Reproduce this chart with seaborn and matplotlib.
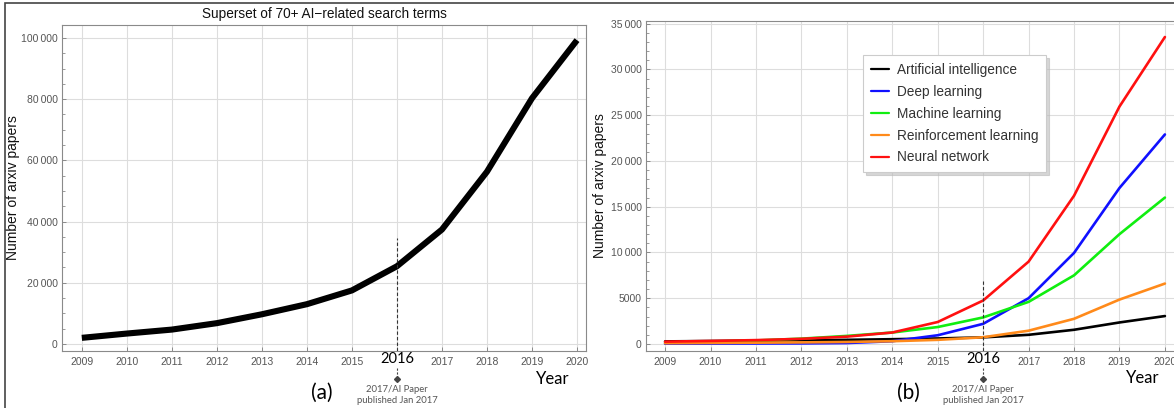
import matplotlib
matplotlib.use("Agg")
import matplotlib.pyplot as plt
import matplotlib.ticker as mticker
from matplotlib.patches import Rectangle
import numpy as np
import pandas as pd
import seaborn as sns

# ---------------- data ----------------
years = [2009, 2010, 2011, 2012, 2013, 2014, 2015, 2016, 2017, 2018, 2019, 2020]
superset = [2000, 3400, 4700, 6800, 9700, 13000, 17500, 25400, 37400, 56300, 80300, 99300]

series_names = ["Artificial intelligence", "Deep learning", "Machine learning",
                "Reinforcement learning", "Neural network"]
artificial_intelligence = [280, 320, 360, 400, 450, 520, 600, 720, 1000, 1550, 2350, 3050]
deep_learning = [30, 40, 50, 60, 100, 300, 950, 2200, 5000, 9950, 17050, 22900]
machine_learning = [150, 250, 380, 580, 880, 1250, 1850, 2900, 4600, 7500, 12000, 16000]
reinforcement_learning = [80, 110, 140, 170, 220, 300, 450, 730, 1450, 2750, 4850, 6600]
neural_network = [250, 330, 420, 560, 800, 1250, 2400, 4750, 9000, 16200, 25950, 33550]
series_values = [artificial_intelligence, deep_learning, machine_learning,
                 reinforcement_learning, neural_network]
series_colors = ["#000000", "#1010ff", "#10ee10", "#ff8a1a", "#ff1010"]

title_a = "Superset of 70+ AI\u2212related search terms"
ylabel = "Number of arxiv papers"
xlabel = "Year"
marker_year = 2016
note_text = "2017/AI Paper\npublished Jan 2017"

# ---------------- style ----------------
sns.set_style("white")
plt.rcParams['font.family'] = ['Liberation Sans', 'DejaVu Sans']

W, H = 1174, 408
fig = plt.figure(figsize=(W / 100, H / 100), dpi=100)


def fx(px):
    return px / W


def fy(py):
    return 1 - py / H


def add_axes_px(x0, y0, x1, y1):
    return fig.add_axes([fx(x0), fy(y1), fx(x1) - fx(x0), (y1 - y0) / H])


def fmt_num(v, pos):
    v = int(round(v))
    if abs(v) >= 10000:
        return f"{v:,}".replace(",", "\u2009")
    return str(v)


tick_color = "#555555"
spine_color = "#8a8a8a"
grid_color = "#dddddd"


def style_axes(ax, ymajor, yminor, xlim, ylim):
    ax.set_xlim(*xlim)
    ax.set_ylim(*ylim)
    ax.set_xticks(years)
    ax.set_xticklabels(["" if y == marker_year else str(y) for y in years])
    ax.yaxis.set_major_locator(mticker.MultipleLocator(ymajor))
    ax.yaxis.set_minor_locator(mticker.MultipleLocator(yminor))
    ax.yaxis.set_major_formatter(mticker.FuncFormatter(fmt_num))
    ax.tick_params(axis="both", which="major", direction="in", length=3,
                   width=0.7, color=spine_color, labelsize=7.5,
                   labelcolor=tick_color, pad=3)
    ax.tick_params(axis="y", which="minor", direction="in", length=2,
                   width=0.6, color=spine_color, left=True)
    ax.tick_params(axis="x", pad=4)
    ax.tick_params(left=True, bottom=True)
    ax.grid(True, which="major", color=grid_color, linewidth=0.8)
    for s in ax.spines.values():
        s.set_color(spine_color)
        s.set_linewidth(0.8)
    ax.set_xlabel("")
    ax.set_ylabel(ylabel, fontsize=10, color="#111111")


# ---------------- panel (a) ----------------
ax1 = add_axes_px(62, 25, 586, 351)
df_a = pd.DataFrame({"Year": years, "Papers": superset})
sns.lineplot(data=df_a, x="Year", y="Papers", ax=ax1, color="black",
             linewidth=4.4, solid_capstyle="butt")
style_axes(ax1, 20000, 5000, (2008.56, 2020.2), (-2300, 104250))
ax1.yaxis.set_label_coords(fx(20), fy(188), transform=fig.transFigure)
ax1.set_title(title_a, fontsize=9.8, color="#111111", pad=5)
ax1.vlines(marker_year, -2300, 34600, colors="#333333", linestyles=(0, (3, 2)),
           linewidth=0.8, zorder=3)

# ---------------- panel (b) ----------------
ax2 = add_axes_px(646, 21, 1174, 351)
df_b = pd.DataFrame({
    "Year": np.tile(years, len(series_names)),
    "Papers": np.concatenate(series_values),
    "Term": np.repeat(series_names, len(years)),
})
sns.lineplot(data=df_b, x="Year", y="Papers", hue="Term", hue_order=series_names,
             palette=series_colors, ax=ax2, linewidth=1.9)
style_axes(ax2, 5000, 1000, (2008.58, 2020.2), (-770, 35300))
ax2.spines["right"].set_visible(False)
ax2.yaxis.set_label_coords(fx(607), fy(186), transform=fig.transFigure)
ax2.vlines(marker_year, -770, 6950, colors="#333333", linestyles=(0, (3, 2)),
           linewidth=0.8, zorder=3)
leg = ax2.legend(loc="upper left", bbox_to_anchor=(fx(863), fy(55)),
                 bbox_transform=fig.transFigure, borderaxespad=0,
                 frameon=True, fancybox=False,
                 shadow={"color": "#bbbbbb", "alpha": 0.6},
                 fontsize=9.8, handlelength=1.3, handletextpad=0.6,
                 labelspacing=0.58, borderpad=0.58, title=None)
leg.get_frame().set_edgecolor("#cccccc")
leg.get_frame().set_linewidth(0.8)
leg.get_frame().set_alpha(1.0)
for t in leg.get_texts():
    t.set_color("#333333")
for h in leg.get_lines():
    h.set_linewidth(1.6)

# ---------------- annotations (slide overlay) ----------------
overlay_font = ["Lato", "DejaVu Sans"]
for xc, lab in [(397, "(a)"), (983, "(b)")]:
    fig.text(fx(xc), fy(359), str(marker_year), ha="center", va="center",
             fontsize=10.5, family=overlay_font, color="black")
    fig.add_artist(plt.Line2D([fx(xc), fx(xc)], [fy(368), fy(377)],
                              transform=fig.transFigure, color="#444444",
                              linewidth=0.8, linestyle=(0, (2, 1.5))))
    fig.add_artist(plt.Line2D([fx(xc)], [fy(379)], transform=fig.transFigure,
                              marker="D", markersize=3, color="#444444"))
    fig.text(fx(xc), fy(395), note_text, ha="center", va="center",
             fontsize=6.8, family=overlay_font, color="#555555",
             linespacing=1.2)
    fig.text(fx(xc - 75), fy(393), lab, ha="center", va="center",
             fontsize=15, family=overlay_font, color="black")

fig.text(fx(553), fy(379), xlabel, ha="center", va="center", fontsize=12,
         family=overlay_font, color="black")
fig.text(fx(1143), fy(378), xlabel, ha="center", va="center", fontsize=12,
         family=overlay_font, color="black")

# outer frame of the composite image
fig.patches.append(Rectangle((fx(5), fy(H + 10)), 1.2, fy(3) - fy(H + 10),
                             transform=fig.transFigure, fill=False,
                             edgecolor="#444444", linewidth=1.2))

fig.savefig("out.png", dpi=100)
